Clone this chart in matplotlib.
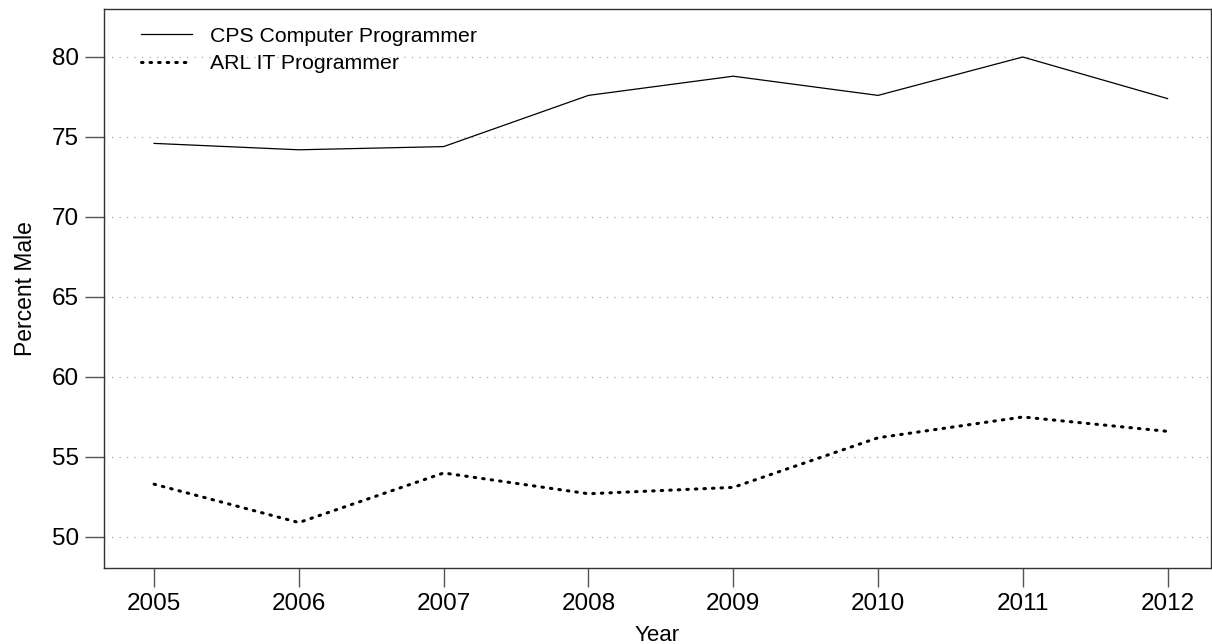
import matplotlib.pyplot as plt

plt.rcParams['font.family'] = ['Liberation Sans', 'DejaVu Sans']

# Share of men among programmers, by year
years = [2005, 2006, 2007, 2008, 2009, 2010, 2011, 2012]
cps_programmer = [74.6, 74.2, 74.4, 77.6, 78.8, 77.6, 80.0, 77.4]
arl_programmer = [53.3, 50.9, 54.0, 52.7, 53.1, 56.2, 57.5, 56.6]
y_ticks = [50, 55, 60, 65, 70, 75, 80]

fig = plt.figure(figsize=(12.12, 6.44), dpi=100)
ax = fig.add_axes([104 / 1212, 1 - 568 / 644, 1107 / 1212, 559 / 644])

ax.plot(years, cps_programmer, color='black', lw=0.9, label='CPS Computer Programmer')
ax.plot(years, arl_programmer, color='black', lw=2.2, linestyle=(0, (0.5, 2.3)),
        dash_capstyle='round', label='ARL IT Programmer')

ax.set_xlim(2004.654, 2012.30)
ax.set_ylim(48.06, 83.0)
ax.set_xticks(years)
ax.set_yticks(y_ticks)
for y in y_ticks:
    ax.axhline(y, color='#aaaaaa', lw=0.9, linestyle=(0, (1, 5)), zorder=0)

ax.tick_params(direction='out', length=14, width=1, color='#555555',
               labelsize=17.5, pad=4)
for s in ax.spines.values():
    s.set_color('#333333')
    s.set_linewidth(1)

ax.set_xlabel('Year', fontsize=16, labelpad=7)
ax.set_ylabel('Percent Male', fontsize=16.5, labelpad=11)

ax.legend(loc='upper left', frameon=False, fontsize=15.3, handlelength=2.4,
          handletextpad=0.85, labelspacing=0.38, borderaxespad=0.6,
          bbox_to_anchor=(0.0142, 1.006))

fig.savefig('out.png', dpi=100)
